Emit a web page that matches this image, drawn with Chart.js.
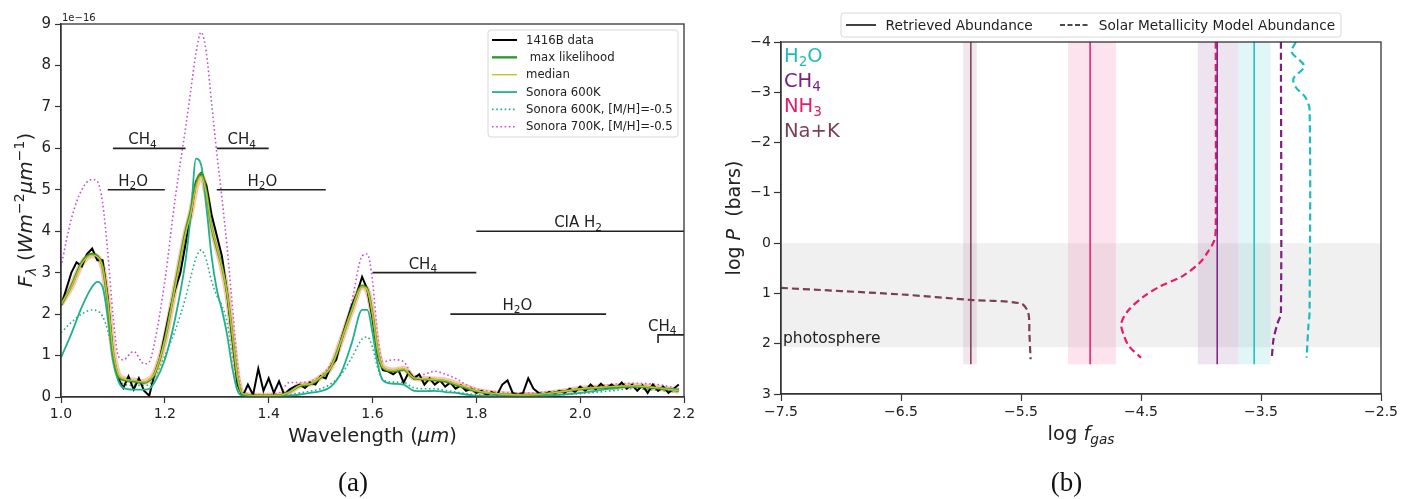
<!DOCTYPE html>
<html>
<head>
<meta charset="utf-8">
<script src="https://cdn.jsdelivr.net/npm/chart.js@4.4.0/dist/chart.umd.min.js"></script>
<style>
  body { margin: 0; background: #fff; }
  #wrap { position: relative; width: 1401px; height: 499px; }
  #left { position: absolute; left: 0; top: 0; }
  #right { position: absolute; left: 700px; top: 0; }
</style>
</head>
<body>
<div id="wrap">
  <canvas id="left" width="700" height="499"></canvas>
  <canvas id="right" width="701" height="499"></canvas>
</div>
<script>
// ---- panel (a): spectrum, flux in units of 1e-16 W m^-2 um^-1 ----
const dataWl = [
  1.00, 1.01, 1.02, 1.03, 1.04, 1.05, 1.06, 1.07, 1.08, 1.09,
  1.10, 1.11, 1.12, 1.13, 1.14, 1.15, 1.16, 1.17, 1.18, 1.19,
  1.20, 1.21, 1.22, 1.23, 1.24, 1.25, 1.26, 1.27, 1.28, 1.29,
  1.30, 1.31, 1.32, 1.33, 1.34, 1.35, 1.36, 1.37, 1.38, 1.39,
  1.40, 1.41, 1.42, 1.43, 1.44, 1.45, 1.46, 1.47, 1.48, 1.49,
  1.50, 1.51, 1.52, 1.53, 1.54, 1.55, 1.56, 1.57, 1.58, 1.59,
  1.60, 1.61, 1.62, 1.63, 1.64, 1.65, 1.66, 1.67, 1.68, 1.69,
  1.70, 1.71, 1.72, 1.73, 1.74, 1.75, 1.76, 1.77, 1.78, 1.79,
  1.80, 1.81, 1.82, 1.83, 1.84, 1.85, 1.86, 1.87, 1.88, 1.89,
  1.90, 1.91, 1.92, 1.93, 1.94, 1.95, 1.96, 1.97, 1.98, 1.99,
  2.00, 2.01, 2.02, 2.03, 2.04, 2.05, 2.06, 2.07, 2.08, 2.09,
  2.10, 2.11, 2.12, 2.13, 2.14, 2.15, 2.16, 2.17, 2.18, 2.19
];
const dataFlux = [
  2.2, 2.6, 3.0, 3.25, 3.15, 3.45, 3.58, 3.3, 3.3, 2.4,
  1.0, 0.45, 0.22, 0.5, 0.18, 0.45, 0.15, 0.03, 0.55, 0.9,
  1.5, 2.1, 2.6, 3.0, 3.7, 4.4, 5.2, 5.4, 5.1, 4.4,
  3.9, 3.4, 2.5, 1.4, 0.3, 0.02, 0.3, 0.05, 0.68, 0.15,
  0.45, 0.1, 0.38, 0.05, 0.18, 0.25, 0.3, 0.22, 0.35, 0.3,
  0.5, 0.45, 0.75, 0.9, 1.4, 1.8, 2.2, 2.5, 2.9, 2.6,
  1.9, 1.0, 0.65, 0.62, 0.55, 0.65, 0.35, 0.6, 0.45, 0.55,
  0.3, 0.45, 0.3, 0.4, 0.25, 0.35, 0.2, 0.28, 0.15, 0.2,
  0.1, 0.15, 0.05, 0.12, 0.05, 0.3, 0.4, 0.1, 0.05, 0.1,
  0.45, 0.2, 0.1, 0.05, 0.12, 0.08, 0.15, 0.1, 0.2, 0.12,
  0.25, 0.15, 0.3, 0.18, 0.32, 0.2, 0.3, 0.22, 0.35, 0.2,
  0.3, 0.15, 0.28, 0.1, 0.3, 0.15, 0.25, 0.1, 0.2, 0.3
];
const modelWl = [
  1.00, 1.02, 1.04, 1.06, 1.07, 1.08, 1.09, 1.10, 1.11, 1.12,
  1.14, 1.16, 1.17, 1.18, 1.20, 1.22, 1.24, 1.25, 1.26, 1.27,
  1.28, 1.29, 1.30, 1.31, 1.32, 1.33, 1.34, 1.35, 1.38, 1.42,
  1.44, 1.46, 1.48, 1.50, 1.52, 1.54, 1.56, 1.58, 1.59, 1.60,
  1.61, 1.62, 1.64, 1.66, 1.68, 1.70, 1.72, 1.74, 1.76, 1.78,
  1.80, 1.84, 1.90, 1.96, 2.00, 2.06, 2.10, 2.15, 2.19
];
const maxLike = [
  2.22, 2.68, 3.25, 3.45, 3.4, 3.15, 2.3, 1.1, 0.52, 0.42,
  0.38, 0.34, 0.4, 0.55, 1.38, 2.7, 4.0, 4.5, 5.15, 5.4,
  4.95, 4.1, 3.6, 3.15, 2.5, 1.5, 0.45, 0.07, 0.03, 0.04,
  0.12, 0.27, 0.31, 0.47, 0.72, 1.38, 2.1, 2.68, 2.6, 2.0,
  1.1, 0.7, 0.62, 0.66, 0.45, 0.43, 0.41, 0.38, 0.3, 0.22,
  0.14, 0.07, 0.05, 0.12, 0.19, 0.24, 0.26, 0.21, 0.15
];
const median = [
  2.24, 2.66, 3.22, 3.42, 3.38, 3.14, 2.33, 1.13, 0.56, 0.44,
  0.40, 0.36, 0.42, 0.56, 1.37, 2.66, 3.95, 4.43, 5.07, 5.34,
  4.91, 4.11, 3.62, 3.14, 2.50, 1.53, 0.48, 0.08, 0.03, 0.04,
  0.12, 0.28, 0.32, 0.48, 0.72, 1.37, 2.09, 2.66, 2.58, 2.01,
  1.13, 0.72, 0.64, 0.68, 0.46, 0.44, 0.42, 0.40, 0.32, 0.24,
  0.15, 0.08, 0.05, 0.12, 0.20, 0.25, 0.27, 0.22, 0.15
];
const sonora600 = [
  0.95, 1.53, 2.17, 2.66, 2.78, 2.66, 1.93, 0.89, 0.40, 0.22,
  0.18, 0.18, 0.2, 0.35, 0.9, 1.9, 3.3, 4.4, 5.75, 5.6,
  4.6, 3.4, 2.6, 2.1, 1.5, 0.7, 0.15, 0.03, 0.02, 0.02,
  0.03, 0.06, 0.1, 0.14, 0.25, 0.6, 1.3, 2.1, 2.1, 1.55,
  0.8, 0.4, 0.32, 0.3, 0.15, 0.14, 0.15, 0.12, 0.1, 0.06,
  0.03, 0.02, 0.02, 0.05, 0.1, 0.2, 0.25, 0.22, 0.18
];
const sonora600m = [
  1.55, 1.8, 2.0, 2.1, 2.08, 1.95, 1.6, 1.0, 0.5, 0.32,
  0.28, 0.28, 0.3, 0.45, 1.0, 1.6, 2.4, 2.9, 3.35, 3.55,
  3.3, 2.8, 2.45, 2.2, 1.8, 1.0, 0.3, 0.05, 0.03, 0.04,
  0.06, 0.1, 0.14, 0.2, 0.32, 0.55, 0.95, 1.4, 1.45, 1.2,
  0.7, 0.42, 0.36, 0.35, 0.22, 0.2, 0.2, 0.16, 0.12, 0.08,
  0.06, 0.04, 0.03, 0.05, 0.08, 0.15, 0.2, 0.16, 0.12
];
const sonora700m = [
  3.15, 4.3, 5.0, 5.25, 5.2, 4.7, 3.5, 2.0, 1.0, 0.9,
  1.1, 0.8, 0.85, 1.3, 2.8, 4.8, 6.5, 7.4, 8.3, 8.8,
  8.3, 7.1, 5.9, 4.8, 3.6, 2.2, 0.8, 0.1, 0.05, 0.1,
  0.35, 0.35, 0.38, 0.5, 0.8, 1.3, 2.3, 3.4, 3.45, 2.8,
  1.5, 0.85, 0.9, 0.85, 0.5, 0.55, 0.62, 0.55, 0.45, 0.3,
  0.2, 0.12, 0.1, 0.15, 0.2, 0.3, 0.33, 0.3, 0.2
];
// absorption band markers
const bandLabels = ['CH4', 'CH4', 'H2O', 'H2O', 'CH4', 'CIA H2', 'H2O', 'CH4'];
const bandStart  = [1.10, 1.30, 1.09, 1.30, 1.60, 1.80, 1.75, 2.15];
const bandEnd    = [1.24, 1.40, 1.20, 1.51, 1.80, 2.20, 2.05, 2.20];
const bandLevel  = [6, 6, 5, 5, 3, 4, 2, 1.5];
const bandTextAt = [1.157, 1.348, 1.139, 1.388, 1.697, 1.996, 1.879, 2.158];
const bandHook   = [null, null, null, null, null, null, null, 1.3];

// ---- panel (b): abundances ----
const species = ['H2O', 'CH4', 'NH3', 'Na+K'];
const retrieved   = [-3.557, -3.865, -4.924, -5.918];
const retrievedLo = [-3.688, -4.027, -5.108, -5.982];
const retrievedHi = [-3.421, -3.688, -4.709, -5.869];
const retrievedTop = -4;
const retrievedBottom = 2.41;
const photoTop = 0;
const photoBottom = 2.07;
const h2oModelF = [-3.21, -3.245, -3.14, -3.23, -3.21, -3.13, -3.095, -3.095, -3.105, -3.12];
const h2oModelP = [-4, -3.8, -3.52, -3.27, -3.1, -2.9, -2.65, 1.35, 1.65, 2.28];
const ch4ModelF = [-3.334, -3.334, -3.36, -3.395, -3.41];
const ch4ModelP = [-4, 1.4, 1.58, 1.9, 2.28];
const nh3ModelF = [-3.877, -3.877, -3.89, -3.95, -4.01, -4.15, -4.34, -4.47, -4.6, -4.665, -4.64, -4.6, -4.5];
const nh3ModelP = [-4, -0.3, -0.05, 0.2, 0.39, 0.65, 0.86, 1.05, 1.32, 1.6, 1.85, 2.05, 2.28];
const nakModelF = [-7.5, -6.5, -5.92, -5.5, -5.44, -5.43, -5.42];
const nakModelP = [0.89, 1.02, 1.13, 1.2, 1.38, 1.8, 2.31];

const speciesColor = ['#1fbcbc', '#7d1f82', '#e8186b', '#7b3f52'];
const speciesFill = ['rgba(40,200,200,0.14)', 'rgba(120,50,140,0.13)', 'rgba(240,80,150,0.16)', 'rgba(150,80,110,0.14)'];

Chart.defaults.font.family = '"DejaVu Sans"';
Chart.defaults.color = '#222';

const xy = (xs, ys) => xs.map((x, i) => ({ x, y: ys[i] }));
const FAM = '"DejaVu Sans"';

function partFont(kind, size) {
  const it = kind === 'i' || kind === 'isub';
  const small = kind === 'sub' || kind === 'isub' || kind === 'sup';
  const px = small ? size * 0.7 : size;
  const dy = kind === 'sup' ? -size * 0.4 : small ? size * 0.22 : 0;
  return { font: (it ? 'italic ' : '') + px + 'px ' + FAM, dy };
}

function richText(ctx, parts, x, y, size, align, color) {
  let total = 0;
  const m = parts.map(([t, k]) => {
    const s = partFont(k, size);
    ctx.font = s.font;
    const w = ctx.measureText(t).width;
    total += w;
    return { t, s, w };
  });
  let cx = align === 'center' ? x - total / 2 : align === 'right' ? x - total : x;
  ctx.fillStyle = color;
  ctx.textAlign = 'left';
  ctx.textBaseline = 'alphabetic';
  m.forEach(p => { ctx.font = p.s.font; ctx.fillText(p.t, cx, y + p.s.dy); cx += p.w; });
}

function formula(s) {
  return s.split(/(\d+)/).filter(t => t).map(t => /^\d+$/.test(t) ? [t, 'sub'] : [t, 'n']);
}

function frame(chart) {
  const a = chart.chartArea, ctx = chart.ctx;
  ctx.save();
  ctx.strokeStyle = '#333';
  ctx.lineWidth = 1.3;
  ctx.strokeRect(a.left, a.top, a.right - a.left, a.bottom - a.top);
  ctx.restore();
}

function axisOpts(min, max, step, fmt, size) {
  return {
    type: 'linear', min, max,
    ticks: { stepSize: step, callback: fmt, font: { size }, color: '#222', padding: 3, autoSkip: false, maxRotation: 0 },
    grid: { drawOnChartArea: false, drawTicks: true, tickLength: 6, tickWidth: 1.2, tickColor: '#333' },
    border: { display: true, color: '#333', width: 1.3 }
  };
}

// ---------------- left chart ----------------
const leftDecor = {
  id: 'leftDecor',
  afterDraw(chart) {
    const ctx = chart.ctx, xs = chart.scales.x, ys = chart.scales.y;
    frame(chart);
    ctx.save();
    // band markers
    bandLabels.forEach((name, i) => {
      richText(ctx, formula(name), xs.getPixelForValue(bandTextAt[i]), ys.getPixelForValue(bandLevel[i]) - 4, 15, 'center', '#222');
    });
    // offset text
    ctx.font = '10px ' + FAM;
    ctx.fillStyle = '#222';
    ctx.textAlign = 'left';
    ctx.textBaseline = 'alphabetic';
    ctx.fillText('1e\u221216', 62, 21);
    // legend
    const lx = 488, ly = 30, lw = 190, lh = 107;
    ctx.fillStyle = 'rgba(255,255,255,0.85)';
    ctx.strokeStyle = '#d8d8d8';
    ctx.lineWidth = 1;
    ctx.beginPath();
    ctx.roundRect(lx, ly, lw, lh, 3);
    ctx.fill();
    ctx.stroke();
    const items = chart.data.datasets.filter(d => d.inLegend).sort((a, b) => a.inLegend - b.inLegend);
    items.forEach((d, i) => {
      const yy = 40 + i * 17.35;
      ctx.strokeStyle = d.borderColor;
      ctx.lineWidth = d.borderWidth;
      ctx.setLineDash(d.borderDash || []);
      ctx.beginPath();
      ctx.moveTo(492, yy);
      ctx.lineTo(517, yy);
      ctx.stroke();
      ctx.setLineDash([]);
      ctx.fillStyle = '#222';
      ctx.font = '11.7px ' + FAM;
      ctx.textBaseline = 'middle';
      ctx.fillText(d.label, 526, yy + 0.5);
    });
    // axis titles
    richText(ctx, [['Wavelength (', 'n'], ['\u03bcm', 'i'], [')', 'n']], (chart.chartArea.left + chart.chartArea.right) / 2, 442, 19.5, 'center', '#222');
    ctx.save();
    ctx.translate(25, 210);
    ctx.rotate(-Math.PI / 2);
    richText(ctx, [['F', 'i'], ['\u03bb', 'isub'], [' (', 'n'], ['Wm', 'i'], ['\u22122', 'sup'], ['\u03bcm', 'i'], ['\u22121', 'sup'], [')', 'n']], 0, 7, 20, 'center', '#222');
    ctx.restore();
    ctx.font = '27px "Liberation Serif"';
    ctx.fillStyle = '#111';
    ctx.textAlign = 'center';
    ctx.textBaseline = 'alphabetic';
    ctx.fillText('(a)', 353, 491);
    ctx.restore();
  }
};

const teal = '#20b08c';
const leftSets = [
  { label: '1416B data', inLegend: 1, data: xy(dataWl, dataFlux), borderColor: '#000', borderWidth: 2, order: 4, tension: 0 },
  { label: ' max likelihood', inLegend: 2, data: xy(modelWl, maxLike), borderColor: '#2e9a2e', borderWidth: 2.4, order: 2, cubicInterpolationMode: 'monotone' },
  { label: 'median', inLegend: 3, data: xy(modelWl, median), borderColor: '#c2c428', borderWidth: 1.4, order: 1, cubicInterpolationMode: 'monotone' },
  { label: 'Sonora 600K', inLegend: 4, data: xy(modelWl, sonora600), borderColor: teal, borderWidth: 1.8, order: 3, cubicInterpolationMode: 'monotone' },
  { label: 'Sonora 600K, [M/H]=-0.5', inLegend: 5, data: xy(modelWl, sonora600m), borderColor: teal, borderWidth: 1.6, borderDash: [1.6, 2.6], order: 6, cubicInterpolationMode: 'monotone' },
  { label: 'Sonora 700K, [M/H]=-0.5', inLegend: 6, data: xy(modelWl, sonora700m), borderColor: '#c94fd8', borderWidth: 1.6, borderDash: [1.6, 2.6], order: 7, cubicInterpolationMode: 'monotone' },
  { label: 'spread', data: xy(modelWl, median), borderColor: 'rgba(245,150,100,0.55)', borderWidth: 6, order: 5, cubicInterpolationMode: 'monotone' }
].concat(bandLabels.map((name, i) => ({
  label: name,
  data: (bandHook[i] != null ? [{ x: bandStart[i], y: bandHook[i] }] : []).concat([{ x: bandStart[i], y: bandLevel[i] }, { x: bandEnd[i], y: bandLevel[i] }]),
  borderColor: '#222', borderWidth: 1.6, order: 0, tension: 0
})));

const lx = axisOpts(1, 2.2, 0.2, v => v.toFixed(1), 14);
lx.afterFit = s => { s.height = 102; };
const lyAx = axisOpts(0, 9, 1, v => String(v), 15);
lyAx.ticks.padding = 4;
lyAx.afterFit = s => { s.width = 61; };

new Chart(document.getElementById('left'), {
  type: 'line',
  data: { datasets: leftSets },
  options: {
    responsive: false,
    animation: false,
    elements: { point: { radius: 0 } },
    layout: { padding: { top: 24, right: 16, left: 0, bottom: 0 } },
    plugins: { legend: { display: false }, tooltip: { enabled: false } },
    scales: { x: lx, y: lyAx }
  },
  plugins: [leftDecor]
});

// ---------------- right chart ----------------
const rightDecor = {
  id: 'rightDecor',
  beforeDatasetsDraw(chart) {
    const ctx = chart.ctx, a = chart.chartArea, xs = chart.scales.x, ys = chart.scales.y;
    ctx.save();
    const p0 = ys.getPixelForValue(photoTop), p1 = ys.getPixelForValue(photoBottom);
    ctx.fillStyle = 'rgba(0,0,0,0.06)';
    ctx.fillRect(a.left, p0, a.right - a.left, p1 - p0);
    const t = ys.getPixelForValue(retrievedTop), b = ys.getPixelForValue(retrievedBottom);
    species.forEach((s, i) => {
      const x0 = xs.getPixelForValue(retrievedLo[i]), x1 = xs.getPixelForValue(retrievedHi[i]);
      ctx.fillStyle = speciesFill[i];
      ctx.fillRect(x0, t, x1 - x0, b - t);
    });
    ctx.restore();
  },
  afterDraw(chart) {
    const ctx = chart.ctx, a = chart.chartArea;
    frame(chart);
    ctx.save();
    species.forEach((s, i) => {
      richText(ctx, formula(s), a.left + 3, 61.5 + i * 25.2, 19.5, 'left', speciesColor[i]);
    });
    richText(ctx, [['photosphere', 'n']], a.left + 2, 343, 15.5, 'left', '#222');
    // legend
    ctx.fillStyle = 'rgba(255,255,255,0.9)';
    ctx.strokeStyle = '#d8d8d8';
    ctx.lineWidth = 1;
    ctx.beginPath();
    ctx.roundRect(141, 13, 500, 24, 3);
    ctx.fill();
    ctx.stroke();
    ctx.strokeStyle = '#111';
    ctx.lineWidth = 1.6;
    ctx.beginPath(); ctx.moveTo(146, 25); ctx.lineTo(176, 25); ctx.stroke();
    ctx.setLineDash([5, 2.5]);
    ctx.beginPath(); ctx.moveTo(360, 25); ctx.lineTo(389, 25); ctx.stroke();
    ctx.setLineDash([]);
    richText(ctx, [['Retrieved Abundance', 'n']], 185.6, 30, 13.7, 'left', '#222');
    richText(ctx, [['Solar Metallicity Model Abundance', 'n']], 398.8, 30, 13.7, 'left', '#222');
    // axis titles
    richText(ctx, [['log ', 'n'], ['f', 'i'], ['gas', 'isub']], (a.left + a.right) / 2, 440, 19.5, 'center', '#222');
    ctx.save();
    ctx.translate(33, 218);
    ctx.rotate(-Math.PI / 2);
    richText(ctx, [['log ', 'n'], ['P', 'i'], ['  (bars)', 'n']], 0, 7, 19, 'center', '#222');
    ctx.restore();
    ctx.font = '27px "Liberation Serif"';
    ctx.fillStyle = '#111';
    ctx.textAlign = 'center';
    ctx.textBaseline = 'alphabetic';
    ctx.fillText('(b)', 366.6, 491);
    ctx.restore();
  }
};

const rightSets = [];
species.forEach((s, i) => {
  rightSets.push({ label: s, data: [{ x: retrieved[i], y: retrievedTop }, { x: retrieved[i], y: retrievedBottom }], borderColor: speciesColor[i], borderWidth: 1.5, tension: 0 });
});
[[h2oModelF, h2oModelP], [ch4ModelF, ch4ModelP], [nh3ModelF, nh3ModelP], [nakModelF, nakModelP]].forEach(([f, p], i) => {
  rightSets.push({ label: species[i] + ' model', data: xy(f, p), borderColor: speciesColor[i], borderWidth: 2.2, borderDash: [7, 4], tension: 0.3 });
});

const minus = v => v.toFixed(Number.isInteger(v) ? 0 : 1).replace('-', '\u2212');
const rx = axisOpts(-7.5, -2.5, 1, v => minus(v), 14);
rx.grid.tickLength = 7;
rx.afterFit = s => { s.height = 105; };
const ry = axisOpts(-4, 3, 1, v => minus(v), 14);
ry.reverse = true;
ry.grid.tickLength = 7;
ry.afterFit = s => { s.width = 81; };
rx.ticks.callback = v => v.toFixed(1).replace('-', '\u2212');

new Chart(document.getElementById('right'), {
  type: 'line',
  data: { datasets: rightSets },
  options: {
    responsive: false,
    animation: false,
    elements: { point: { radius: 0 } },
    layout: { padding: { top: 42, right: 19, left: 0, bottom: 0 } },
    plugins: { legend: { display: false }, tooltip: { enabled: false } },
    scales: { x: rx, y: ry }
  },
  plugins: [rightDecor]
});
</script>
</body>
</html>
